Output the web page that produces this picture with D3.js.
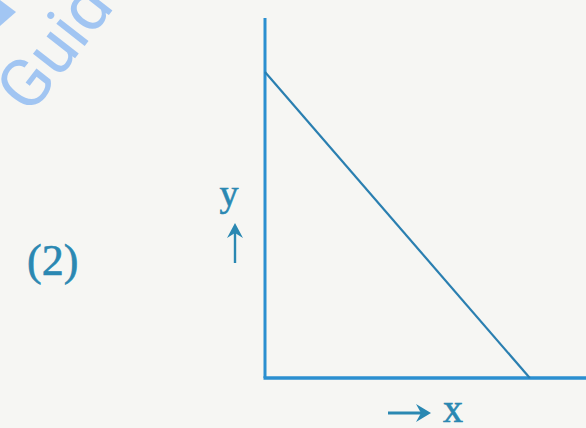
<!DOCTYPE html>
<html lang="en">
<head>
    <meta charset="UTF-8">
    <title>Figure (2)</title>
    <script src="https://d3js.org/d3.v7.min.js"></script>
    <style>
        html, body { margin: 0; padding: 0; background: #f6f6f3; }
        svg { display: block; }
        .lbl { font-family: "Liberation Serif", "DejaVu Serif", serif; fill: #2a88b2; stroke: #2a88b2; stroke-width: 0.6; }
    </style>
</head>
<body>
    <svg width="586" height="428"></svg>
    <script>
        // axis ranges (data units)
        const xDomain = [0, 6];
        const yDomain = [0, 6];
        // straight line y = a - b x, given by its two intercepts
        const linePoints = [
            { x: 0, y: 5.1 },
            { x: 4.95, y: 0 }
        ];
        const figLabel = "(2)";
        const xLabel = "x";
        const yLabel = "y";

        const svg = d3.select("svg");
        const width = 586, height = 428;
        const ink = "#2a88b2";

        svg.append("rect").attr("width", width).attr("height", height).attr("fill", "#f6f6f3");

        // faint watermark in the corner (cut off by the page edge, as in the scan)
        svg.append("text")
            .attr("transform", "translate(30,116) rotate(-52)")
            .attr("font-family", "Roboto, 'Noto Sans', sans-serif")
            .attr("font-size", 68)
            .attr("fill", "#8dbaf2")
            .attr("opacity", 0.8)
            .text("Guide");
        svg.append("path")
            .attr("d", "M0,0 L16,12 L0,26 Z")
            .attr("fill", "#8dbaf2")
            .attr("opacity", 0.8);

        const x = d3.scaleLinear().domain(xDomain).range([265, 586]);
        const y = d3.scaleLinear().domain(yDomain).range([378, 18]);

        const g = svg.append("g");

        // axes
        g.append("line")
            .attr("x1", x(0)).attr("y1", y(yDomain[1]))
            .attr("x2", x(0)).attr("y2", y(0))
            .attr("stroke", "#2b8fd0").attr("stroke-width", 3);
        g.append("line")
            .attr("x1", x(0) - 1.5).attr("y1", y(0))
            .attr("x2", x(xDomain[1])).attr("y2", y(0))
            .attr("stroke", "#2b8fd0").attr("stroke-width", 3.5);

        // the line
        g.append("path")
            .datum(linePoints)
            .attr("fill", "none")
            .attr("stroke", "#2a7fb0")
            .attr("stroke-width", 2.2)
            .attr("d", d3.line().x(d => x(d.x)).y(d => y(d.y)));

        // labels
        svg.append("text").attr("class", "lbl")
            .attr("x", 27).attr("y", 275)
            .attr("font-size", 44)
            .text(figLabel);

        svg.append("text").attr("class", "lbl")
            .attr("x", 229).attr("y", 206)
            .attr("text-anchor", "middle")
            .attr("font-size", 38)
            .text(yLabel);
        // up arrow under y
        svg.append("line")
            .attr("x1", 235).attr("y1", 230).attr("x2", 235).attr("y2", 263)
            .attr("stroke", ink).attr("stroke-width", 2.4);
        svg.append("path")
            .attr("d", "M227,238 L235,223 L243,238 L235,233 Z")
            .attr("fill", ink);

        // right arrow before x
        svg.append("line")
            .attr("x1", 388).attr("y1", 413).attr("x2", 424).attr("y2", 413)
            .attr("stroke", ink).attr("stroke-width", 3);
        svg.append("path")
            .attr("d", "M416,404 L431,413 L416,422 L421,413 Z")
            .attr("fill", ink);
        svg.append("text").attr("class", "lbl")
            .attr("x", 443).attr("y", 422)
            .attr("font-size", 40)
            .text(xLabel);
    </script>
</body>
</html>
